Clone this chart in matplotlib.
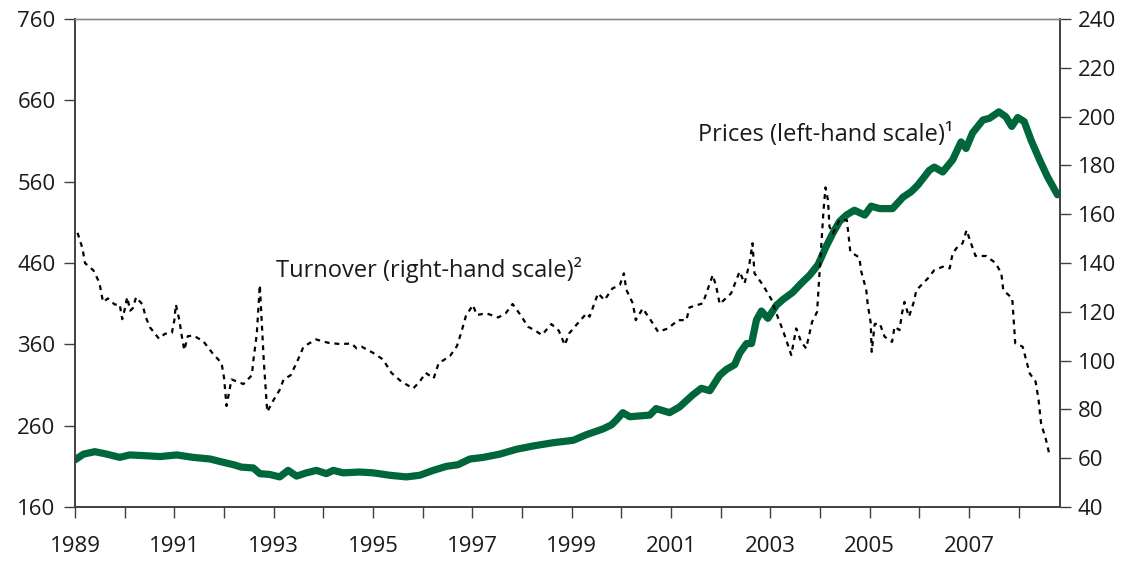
from __future__ import annotations

import matplotlib

matplotlib.use("Agg")
import matplotlib.pyplot as plt
from matplotlib.ticker import FixedLocator, NullFormatter


PRICE_YEARS = [
	1989.0, 1989.17, 1989.4, 1989.64, 1989.9, 1990.1, 1990.44, 1990.71, 1991.05, 1991.38,
	1991.72, 1991.98, 1992.19, 1992.35, 1992.59, 1992.72, 1992.92, 1993.12, 1993.29, 1993.46,
	1993.66, 1993.86, 1994.06, 1994.2, 1994.4, 1994.73, 1995.0, 1995.34, 1995.67, 1995.94,
	1996.21, 1996.48, 1996.71, 1996.95, 1997.22, 1997.55, 1997.89, 1998.22, 1998.62, 1999.03,
	1999.3, 1999.63, 1999.8, 1999.9, 2000.03, 2000.17, 2000.37, 2000.57, 2000.7, 2000.97,
	2001.17, 2001.44, 2001.61, 2001.78, 2001.98, 2002.11, 2002.28, 2002.38, 2002.52, 2002.62,
	2002.72, 2002.82, 2002.95, 2003.12, 2003.25, 2003.45, 2003.62, 2003.79, 2003.96, 2004.12,
	2004.26, 2004.39, 2004.53, 2004.69, 2004.76, 2004.9, 2005.03, 2005.2, 2005.46, 2005.67,
	2005.84, 2005.97, 2006.2, 2006.3, 2006.47, 2006.67, 2006.84, 2006.94, 2007.07, 2007.28,
	2007.41, 2007.6, 2007.74, 2007.86, 2007.98, 2008.11, 2008.25, 2008.42, 2008.58, 2008.78,
]
PRICES = [
	218, 225, 228, 225, 221, 224, 223, 222, 224, 221,
	219, 215, 212, 209, 208, 201, 200, 197, 205, 198,
	202, 205, 201, 205, 202, 203, 202, 199, 197, 199,
	205, 210, 212, 219, 221, 225, 231, 235, 239, 242,
	249, 256, 261, 267, 276, 271, 272, 273, 281, 276,
	283, 298, 306, 303, 322, 329, 335, 349, 361, 361,
	390, 401, 392, 408, 415, 424, 435, 445, 458, 480,
	497, 511, 519, 525, 523, 519, 530, 527, 527, 541,
	548, 556, 574, 578, 572, 587, 609, 601, 620, 636,
	638, 646, 640, 628, 639, 634, 611, 587, 566, 544,
]

TURNOVER_YEARS = [
	1989.05, 1989.15, 1989.2, 1989.37, 1989.49, 1989.55, 1989.57, 1989.66, 1989.8, 1989.9,
	1989.95, 1990.0, 1990.05, 1990.11, 1990.16, 1990.23, 1990.36, 1990.42, 1990.51, 1990.69,
	1990.81, 1990.95, 1991.0, 1991.03, 1991.1, 1991.15, 1991.2, 1991.27, 1991.38, 1991.58,
	1991.77, 1991.95, 1992.0, 1992.05, 1992.15, 1992.39, 1992.56, 1992.59, 1992.66, 1992.72,
	1992.8, 1992.87, 1992.99, 1993.12, 1993.2, 1993.34, 1993.47, 1993.6, 1993.85, 1994.1,
	1994.33, 1994.57, 1994.67, 1994.77, 1995.0, 1995.2, 1995.37, 1995.57, 1995.81, 1995.94,
	1996.06, 1996.22, 1996.32, 1996.55, 1996.69, 1996.78, 1996.87, 1997.01, 1997.09, 1997.28,
	1997.52, 1997.67, 1997.81, 1997.97, 1998.12, 1998.25, 1998.4, 1998.59, 1998.74, 1998.86,
	1998.95, 1999.13, 1999.3, 1999.36, 1999.53, 1999.66, 1999.82, 1999.97, 2000.05, 2000.1,
	2000.23, 2000.29, 2000.43, 2000.58, 2000.74, 2000.94, 2001.14, 2001.31, 2001.37, 2001.64,
	2001.84, 2001.91, 2001.98, 2002.21, 2002.38, 2002.48, 2002.58, 2002.64, 2002.68, 2002.85,
	2003.02, 2003.12, 2003.25, 2003.32, 2003.42, 2003.52, 2003.62, 2003.72, 2003.84, 2003.94,
	2003.99, 2004.07, 2004.11, 2004.16, 2004.19, 2004.26, 2004.39, 2004.54, 2004.61, 2004.79,
	2004.83, 2004.93, 2004.96, 2005.02, 2005.04, 2005.1, 2005.2, 2005.3, 2005.45, 2005.5,
	2005.6, 2005.65, 2005.7, 2005.79, 2005.88, 2005.94, 2006.04, 2006.17, 2006.3, 2006.47,
	2006.61, 2006.67, 2006.77, 2006.87, 2006.95, 2007.04, 2007.13, 2007.34, 2007.53, 2007.65,
	2007.69, 2007.87, 2007.89, 2007.93, 2008.08, 2008.15, 2008.22, 2008.34, 2008.4, 2008.45,
	2008.55, 2008.62,
]
TURNOVER = [
	152.4, 146, 140, 137, 132, 125.5, 124, 125.5, 123, 123,
	117, 121, 126, 120.5, 121.4, 126, 123, 118, 113.6, 109,
	111, 111.4, 116.6, 123, 116.6, 110, 104.3, 110, 110.3, 108,
	103, 99, 93, 81.4, 92.3, 90.4, 94, 100, 111, 131,
	100, 79, 83.6, 88, 92.3, 94, 99.5, 105.7, 108.7, 107.3,
	106.8, 107, 105, 105.7, 103.2, 100.5, 95, 91.4, 88.6, 91.4,
	95, 92.7, 98.9, 101.9, 106, 111.8, 118.3, 122.8, 118.7, 119.4,
	117.7, 119.4, 123.2, 118.7, 113.9, 112.5, 110.5, 115, 112.3, 106.4,
	111.2, 115.5, 119.4, 118, 127.6, 124.8, 129.6, 131, 135.8, 129,
	123.5, 116.6, 121.4, 116.9, 111.8, 113.2, 116.6, 116.6, 121.8, 123.5,
	135.1, 130.3, 123.2, 127.6, 136.5, 131.7, 139.9, 148.1, 135.8, 131,
	125.1, 119.4, 112.5, 108.4, 102.3, 113.2, 107.7, 105, 115.9, 120,
	135.8, 161.7, 171, 165.8, 154.9, 152.1, 157.6, 157.6, 144.6, 142.3,
	136.5, 129, 123, 115.5, 103.6, 115, 115.3, 109.8, 107.7, 113.9,
	112.5, 119.4, 124.1, 118, 123.5, 128.9, 131, 133.7, 137.1, 138.5,
	137.8, 144, 146.7, 148.1, 153.5, 148.1, 142.9, 142.9, 140.1, 135.8,
	128.9, 125.5, 119.4, 107.1, 105.7, 100.2, 94.8, 91.4, 83.9, 74.3,
	67.5, 61.3,
]

LABEL_YEARS = list(range(1989, 2009, 2))
MINOR_YEARS = list(range(1990, 2009, 2))
LEFT_TICKS = list(range(160, 761, 100))
RIGHT_TICKS = list(range(40, 241, 20))

GREEN = "#00673a"
TEXT_COLOR = "#1a1a1a"
AXIS_COLOR = "#404040"
FONT = ["Open Sans", "DejaVu Sans"]


def style_ticks(ax) -> None:
	ax.tick_params(which="both", direction="out", length=8, width=1.0, color=AXIS_COLOR,
		labelsize=16, labelcolor=TEXT_COLOR)


def main() -> None:
	plt.rcParams["font.family"] = FONT

	fig = plt.figure(figsize=(11.3, 5.63), dpi=100)
	ax = fig.add_axes([0.0664, 0.0995, 0.8716, 0.8665])
	ax2 = ax.twinx()

	ax.plot(PRICE_YEARS, PRICES, color=GREEN, linewidth=5.2, solid_capstyle="round",
		solid_joinstyle="round")
	ax2.plot(TURNOVER_YEARS, TURNOVER, color="black", linewidth=1.6, linestyle=(0, (2.2, 2.2)))

	ax.set_xlim(1989.0, 2008.83)
	ax.set_ylim(160, 760)
	ax2.set_ylim(40, 240)

	ax.xaxis.set_major_locator(FixedLocator(LABEL_YEARS))
	ax.xaxis.set_minor_locator(FixedLocator(MINOR_YEARS))
	ax.xaxis.set_minor_formatter(NullFormatter())
	ax.set_xticklabels([str(year) for year in LABEL_YEARS])
	ax.set_yticks(LEFT_TICKS)
	ax2.set_yticks(RIGHT_TICKS)

	style_ticks(ax)
	style_ticks(ax2)
	ax.tick_params(axis="x", which="both", pad=13)
	ax.tick_params(axis="y", pad=6)
	ax2.tick_params(axis="y", pad=5)

	for axis in (ax, ax2):
		for side in ("left", "right", "bottom"):
			axis.spines[side].set_color(AXIS_COLOR)
			axis.spines[side].set_linewidth(1.2)
		axis.spines["top"].set_color("#8c8c8c")
		axis.spines["top"].set_linewidth(1.0)

	ax.text(1993.05, 451, "Turnover (right-hand scale)\u00b2", fontsize=17, color=TEXT_COLOR,
		va="center", ha="left")
	ax.text(2001.55, 617, "Prices (left-hand scale)\u00b9", fontsize=17, color=TEXT_COLOR,
		va="center", ha="left")

	fig.savefig("out.png", dpi=100)
	plt.close(fig)


if __name__ == "__main__":
	main()
